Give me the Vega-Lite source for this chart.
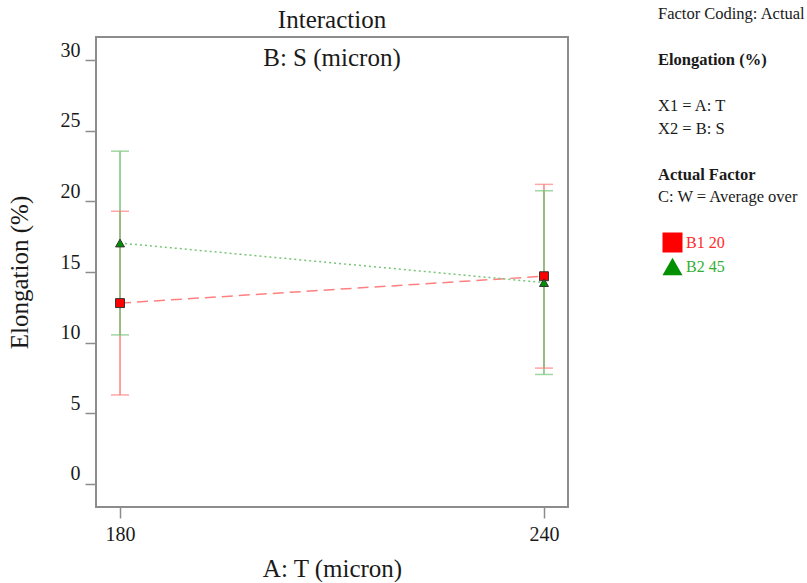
{
  "$schema": "https://vega.github.io/schema/vega-lite/v6.json",
  "bounds": "flush",
  "spacing": 90,
  "padding": {"left": 6, "top": 6, "right": 0, "bottom": 0},
  "config": {
    "font": "Liberation Serif",
    "view": {"stroke": null},
    "axis": {"grid": false, "domain": false, "tickColor": "#8c8c8c", "tickWidth": 1.5, "tickSize": 11, "labelFont": "Liberation Serif", "labelFontSize": 20, "labelColor": "#1a1a1a", "titleFont": "Liberation Serif", "titleFontSize": 25, "titleFontWeight": "normal", "titleColor": "#1a1a1a"}
  },
  "hconcat": [
    {
      "width": 472,
      "height": 470,
      "view": {"stroke": "#8c8c8c", "strokeWidth": 2},
      "title": {"text": "Interaction", "subtitle": "B: S (micron)", "font": "Liberation Serif", "fontSize": 25, "fontWeight": "normal", "color": "#1a1a1a", "subtitleFont": "Liberation Serif", "subtitleFontSize": 25, "subtitleColor": "#1a1a1a", "anchor": "middle", "offset": -34, "subtitlePadding": 13},
      "data": {"values": [
        {"T": 180, "series": "B1 20", "mean": 12.8, "lo": 6.3, "hi": 19.3},
        {"T": 240, "series": "B1 20", "mean": 14.7, "lo": 8.2, "hi": 21.2},
        {"T": 180, "series": "B2 45", "mean": 17.05, "lo": 10.55, "hi": 23.55},
        {"T": 240, "series": "B2 45", "mean": 14.25, "lo": 7.75, "hi": 20.75}
      ]},
      "encoding": {
        "x": {"field": "T", "type": "quantitative", "title": "A: T (micron)", "scale": {"domain": [176.6, 243.4], "nice": false, "zero": false}, "axis": {"values": [180, 240], "labelPadding": 6, "titlePadding": 12}}
      },
      "resolve": {"legend": {"fill": "independent", "shape": "independent"}},
      "layer": [
        {
          "mark": {"type": "rule", "strokeWidth": 1.5},
          "encoding": {
            "y": {"field": "lo", "type": "quantitative", "title": "Elongation (%)", "scale": {"domain": [-1.63, 31.63], "nice": false, "zero": false}, "axis": {"values": [0, 5, 10, 15, 20, 25, 30], "labelBaseline": "alphabetic", "labelOffset": -4, "labelPadding": 5, "titlePadding": 28}},
            "y2": {"field": "hi"},
            "color": {"field": "series", "type": "nominal", "scale": {"domain": ["B1 20", "B2 45"], "range": ["#ff8080", "#78c478"]}, "legend": null}
          }
        },
        {
          "mark": {"type": "tick", "orient": "horizontal", "size": 18, "thickness": 1.5},
          "encoding": {
            "y": {"field": "lo", "type": "quantitative", "title": "Elongation (%)"},
            "color": {"field": "series", "type": "nominal", "legend": null}
          }
        },
        {
          "mark": {"type": "tick", "orient": "horizontal", "size": 18, "thickness": 1.5},
          "encoding": {
            "y": {"field": "hi", "type": "quantitative", "title": "Elongation (%)"},
            "color": {"field": "series", "type": "nominal", "legend": null}
          }
        },
        {
          "mark": {"type": "line", "strokeWidth": 1.5},
          "encoding": {
            "y": {"field": "mean", "type": "quantitative", "title": "Elongation (%)"},
            "color": {"field": "series", "type": "nominal", "legend": null},
            "strokeDash": {"field": "series", "type": "nominal", "scale": {"domain": ["B1 20", "B2 45"], "range": [[11, 6], [2, 3]]}, "legend": null}
          }
        },
        {
          "mark": {"type": "point", "filled": true, "stroke": "#333333", "strokeWidth": 1, "size": 80, "opacity": 1},
          "encoding": {
            "y": {"field": "mean", "type": "quantitative", "title": "Elongation (%)"},
            "fill": {"field": "series", "type": "nominal", "scale": {"domain": ["B1 20", "B2 45"], "range": ["#ff0000", "#009000"]},
              "legend": {"orient": "none", "legendX": 566, "legendY": 195, "title": null, "symbolSize": 400, "symbolStrokeColor": "#333333", "symbolStrokeWidth": 1, "labelFont": "Liberation Serif", "labelFontSize": 16, "labelOffset": 3, "rowPadding": 0, "padding": 0, "labelColor": {"expr": "datum.label == 'B1 20' ? '#ff2a2a' : '#33b033'"}}},
            "shape": {"field": "series", "type": "nominal", "scale": {"domain": ["B1 20", "B2 45"], "range": ["square", "triangle-up"]},
              "legend": {"orient": "none", "legendX": 566, "legendY": 195, "title": null, "symbolSize": 400, "symbolStrokeColor": "#333333", "symbolStrokeWidth": 1, "labelFont": "Liberation Serif", "labelFontSize": 16, "labelOffset": 3, "rowPadding": 0, "padding": 0, "labelColor": {"expr": "datum.label == 'B1 20' ? '#ff2a2a' : '#33b033'"}}}
          }
        }
      ]
    },
    {
      "width": 140,
      "height": 470,
      "view": {"stroke": null},
      "data": {"values": [
        {"line": 0, "text": "Factor Coding: Actual", "kind": "plain"},
        {"line": 2, "text": "Elongation (%)", "kind": "heading"},
        {"line": 4, "text": "X1 = A: T", "kind": "plain"},
        {"line": 5, "text": "X2 = B: S", "kind": "plain"},
        {"line": 7, "text": "Actual Factor", "kind": "heading"},
        {"line": 8, "text": "C: W = Average over", "kind": "plain"}
      ]},
      "encoding": {
        "x": {"value": 0},
        "y": {"field": "line", "type": "quantitative", "scale": {"domain": [1, 21.5], "reverse": true, "nice": false, "zero": false}, "axis": null},
        "text": {"field": "text", "type": "nominal"}
      },
      "layer": [
        {"transform": [{"filter": "datum.kind == 'plain'"}], "mark": {"type": "text", "align": "left", "baseline": "middle", "font": "Liberation Serif", "fontSize": 16.5, "color": "#1a1a1a"}},
        {"transform": [{"filter": "datum.kind == 'heading'"}], "mark": {"type": "text", "align": "left", "baseline": "middle", "font": "Liberation Serif", "fontSize": 16.5, "fontWeight": "bold", "color": "#1a1a1a"}}
      ]
    }
  ]
}
